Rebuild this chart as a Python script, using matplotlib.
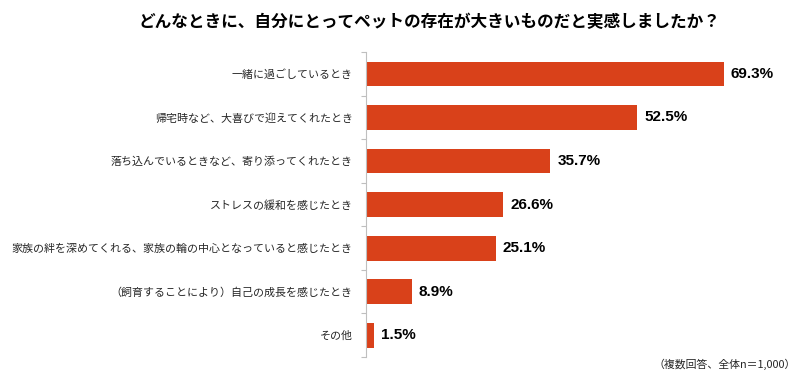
import matplotlib
matplotlib.use('Agg')
import matplotlib.pyplot as plt
import numpy as np

plt.rcParams['font.family'] = ['Noto Sans CJK JP', 'DejaVu Sans']

# data
labels = ['一緒に過ごしているとき',
          '帰宅時など、大喜びで迎えてくれたとき',
          '落ち込んでいるときなど、寄り添ってくれたとき',
          'ストレスの緩和を感じたとき',
          '家族の絆を深めてくれる、家族の輪の中心となっていると感じたとき',
          '（飼育することにより）自己の成長を感じたとき',
          'その他']
values = [69.3, 52.5, 35.7, 26.6, 25.1, 8.9, 1.5]

title = 'どんなときに、自分にとってペットの存在が大きいものだと実感しましたか？'
note = '（複数回答、全体n＝1,000）'

bar_color = '#D9411A'
axis_color = '#BFBFBF'

fig = plt.figure(figsize=(8, 3.78), dpi=100)
ax = fig.add_axes([0.4575, 0.0556, 0.5165, 0.8064])

y = np.arange(len(values))
ax.barh(y, values, height=0.57, color=bar_color)
ax.set_xlim(0, 80)
ax.set_ylim(len(values) - 0.5, -0.5)

for yi, v in zip(y, values):
    ax.text(v + 1.35, yi, '%.1f%%' % v, va='center', ha='left',
            fontsize=11, fontweight='bold', family=['Liberation Sans', 'DejaVu Sans'])

ax.set_yticks(y)
ax.set_yticklabels(labels, fontsize=7.9, color='#262626')
ax.tick_params(axis='y', which='major', length=0, pad=9.5)
ax.set_yticks(np.arange(-0.5, len(values)), minor=True)
ax.tick_params(axis='y', which='minor', length=3.6, color=axis_color, width=0.8)
ax.set_xticks([])

for s in ['top', 'right', 'bottom']:
    ax.spines[s].set_visible(False)
ax.spines['left'].set_color(axis_color)
ax.spines['left'].set_linewidth(0.8)

fig.text(0.537, 0.942, title, ha='center', va='center', fontsize=12, fontweight='bold')
fig.text(0.995, 0.035, note, ha='right', va='center', fontsize=7.8, color='#262626')

fig.savefig('out.png', dpi=100)
